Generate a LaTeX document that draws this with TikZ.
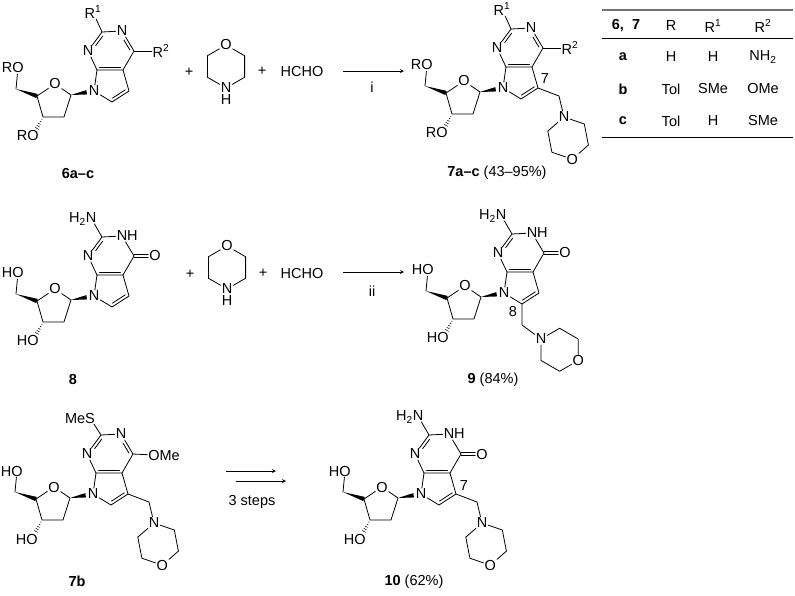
\documentclass[tikz,border=0pt]{standalone}
\usepackage{fontspec}
\setmainfont{Liberation Sans}
\usetikzlibrary{calc}
\usetikzlibrary{positioning}
\tikzset{
	bond/.style={line width=0.8pt, line join=round, line cap=round},
	atom/.style={inner sep=1pt, outer sep=0pt},
	tail/.style={inner sep=0pt, outer sep=0pt},
	rxn/.style={->, >=stealth, line width=0.8pt},
	tablerule/.style={line width=0.8pt},
}
% double bond: second line beside a--b, between fractions #4 and #5
\newcommand{\dblbond}[5]{\draw[bond] ($(#1)!#4!(#2)!3pt!#3:(#2)$) -- ($(#1)!#5!(#2)!3pt!#3:(#2)$);}
% #1 narrow end, #2 wide end
\newcommand{\wedgebond}[2]{\fill ($(#1)$) -- ($(#2)!2.2pt!90:(#1)$) -- ($(#2)!2.2pt!-90:(#1)$) -- cycle;}
\newcommand{\hashbond}[2]{%
	\foreach \h in {.12,.24,.36,.48,.60}{
		\draw[line width=.5pt] ($(#1)!\h!(#2)!\h*3.4pt!90:(#2)$) -- ($(#1)!\h!(#2)!\h*3.4pt!-90:(#2)$);
	}}
% prefix, x, y, letter on the sugar oxygens
\newcommand{\nucleoside}[4]{%
	\begin{scope}[shift={(#2,#3)}]
		\node[atom] (#1N9) at (0,0) {N};
		\coordinate (#1C8) at (18,11);
		\coordinate (#1C7) at (35,0);
		\coordinate (#1C4a) at (29,-21);
		\coordinate (#1C7a) at (3,-21);
		\node[atom] (#1N3) at (-6,-40) {N};
		\coordinate (#1C2) at (8,-59);
		\node[atom] (#1N1) at (28,-60) {N};
		\coordinate (#1C4) at (40,-40);
		\draw[bond] (#1N9) -- (#1C8) -- (#1C7) -- (#1C4a) -- (#1C7a) -- (#1N9);
		\draw[bond] (#1C7a) -- (#1N3) -- (#1C2) -- (#1N1) -- (#1C4) -- (#1C4a);
		\dblbond{#1C2}{#1N3}{90}{.12}{.62}
		\dblbond{#1C7a}{#1C4a}{90}{.1}{.9}
		\dblbond{#1C7}{#1C8}{-90}{.12}{.88}
		% sugar
		\node[atom] (#1O4) at (-39,-7) {O};
		\coordinate (#1C1) at (-23,4);
		\coordinate (#1C2p) at (-30,26);
		\coordinate (#1C3p) at (-51,26);
		\coordinate (#1C4p) at (-57,5);
		\coordinate (#1C5p) at (-78,-2);
		\node[atom] (#1O5) at (-76,-23) {O};
		\node[atom] (#1O3) at (-61,45) {O};
		\node[tail, base left=-1pt of #1O5] (#1R5) {#4};
		\node[tail, base left=-1pt of #1O3] (#1R3) {#4};
		\draw[bond] (#1C4p) -- (#1O4) -- (#1C1) -- (#1C2p) -- (#1C3p) -- (#1C4p);
		\draw[bond] (#1C5p) -- (#1O5);
		\coordinate (#1Nw) at ($(#1C1)!.68!(#1N9)$);
		\wedgebond{#1C1}{#1Nw}
		\wedgebond{#1C5p}{#1C4p}
		\hashbond{#1C3p}{#1O3}
	\end{scope}}
% prefix, position, turn
\newcommand{\morpholine}[3]{%
	\begin{scope}[shift={(#2)}, rotate=#3]
		\node[atom] (#1mN) at (0,0) {N};
		\coordinate (#1mA) at (10.75,-18.6);
		\coordinate (#1mB) at (32.25,-18.6);
		\node[atom] (#1mO) at (43,0) {O};
		\coordinate (#1mC) at (32.25,18.6);
		\coordinate (#1mD) at (10.75,18.6);
		\draw[bond] (#1mN) -- (#1mA) -- (#1mB) -- (#1mO) -- (#1mC) -- (#1mD) -- (#1mN);
	\end{scope}}
% R1 and R2 on the base
\newcommand{\rgroups}[1]{%
	\node[atom] (#1Ra) at ($(#1N9)+(-1,-79)$) {R\textsuperscript{1}};
	\node[atom] (#1Rb) at ($(#1N9)+(67,-40)$) {R\textsuperscript{2}};
	\draw[bond] (#1C2) -- (#1Ra);
	\draw[bond] (#1C4) -- (#1Rb);
	\dblbond{#1C4}{#1N1}{90}{.12}{.62}}
% amino and keto groups
\newcommand{\aminoketo}[1]{%
	\node[atom] (#1Nam) at ($(#1N9)+(-3,-78)$) {N};
	\node[tail, base left=-1pt of #1Nam] (#1Ham) {H\textsubscript{2}};
	\node[tail, base right=-1pt of #1N1] (#1Hn) {H};
	\node[atom] (#1Ok) at ($(#1N9)+(61,-40)$) {O};
	\coordinate (#1Oe) at ($(#1C4)!.68!(#1Ok)$);
	\draw[bond] (#1C2) -- (#1Nam);
	\draw[bond] ($(#1C4)!1.5pt!90:(#1Ok)$) -- ($(#1Oe)!1.5pt!-90:(#1C4)$);
	\draw[bond] ($(#1C4)!1.5pt!-90:(#1Ok)$) -- ($(#1Oe)!1.5pt!90:(#1C4)$);}
% CH2 on C7 and its morpholine
\newcommand{\sidechain}[1]{%
	\coordinate (#1Me) at ($(#1N9)+(56,8)$);
	\coordinate (#1Mp) at ($(#1N9)+(61,29)$);
	\morpholine{#1}{#1Mp}{-79}
	\draw[bond] (#1C7) -- (#1Me) -- (#1mN);}
\begin{document}
\begin{tikzpicture}[x=1pt, y=-1pt, font=\fontsize{14.5}{17}\selectfont]
	\useasboundingbox (0,0) rectangle (795,595);

	% first row
	\nucleoside{a}{94}{91}{R}
	\rgroups{a}
	\node (plusA) at (189,72) {+};
	\morpholine{fa}{226,88}{90}
	\node[tail, below=1pt of famN] (faH) {H};
	\node (plusB) at (262,71) {+};
	\node (hchoA) at (302,72) {HCHO};
	\coordinate (arrAs) at (343,71);
	\coordinate (arrAe) at (404,71);
	\draw[rxn] (arrAs) -- (arrAe);
	\node (stepA) at (372,87) {i};
	\nucleoside{b}{503}{88}{R}
	\rgroups{b}
	\sidechain{b}
	\node (numA) at ($(bN9)+(42,-9)$) {7};
	\node (lab6) at (78,174) {\textbf{6a–c}};
	\node (lab7) at (497,173) {\textbf{7a–c} (43–95\%)};

	% table
	\coordinate (rTl) at (602,10); \coordinate (rTr) at (793,10);
	\coordinate (rHl) at (602,38); \coordinate (rHr) at (793,38);
	\coordinate (rBl) at (602,137); \coordinate (rBr) at (793,137);
	\draw[tablerule, line width=1.5pt, black!55] (rTl) -- (rTr);
	\draw[tablerule] (rHl) -- (rHr);
	\draw[tablerule] (rBl) -- (rBr);
	\node (head0) at (626,26) {\textbf{6,\ \ 7}};
	\node (head1) at (671,26) {R};
	\node (head2) at (713,26) {R\textsuperscript{1}};
	\node (head3) at (763,26) {R\textsuperscript{2}};
	\foreach \y/\n/\ca/\cb/\cc in {57/a/H/H/NH\textsubscript{2}, 89/b/Tol/SMe/OMe, 121/c/Tol/H/SMe}{
		\node (row\n) at (623,\y) {\textbf{\n}};
		\node (row\n1) at (671,\y) {\ca};
		\node (row\n2) at (713,\y) {\cb};
		\node (row\n3) at (763,\y) {\cc};
	}

	% second row
	\nucleoside{c}{94}{296}{H}
	\aminoketo{c}
	\node (plusC) at (190,274) {+};
	\morpholine{fb}{227,289}{90}
	\node[tail, below=1pt of fbmN] (fbH) {H};
	\node (plusD) at (263,273) {+};
	\node (hchoB) at (302,274) {HCHO};
	\coordinate (arrBs) at (343,272);
	\coordinate (arrBe) at (404,272);
	\draw[rxn] (arrBs) -- (arrBe);
	\node (stepB) at (372,291) {ii};
	\nucleoside{d}{504}{293}{H}
	\aminoketo{d}
	\coordinate (dMe) at ($(dN9)+(18,32)$);
	\coordinate (dMp) at ($(dN9)+(37,46)$);
	\morpholine{d}{dMp}{-30}
	\draw[bond] (dC8) -- (dMe) -- (dmN);
	\node (numB) at ($(dN9)+(9,19)$) {8};
	\node (lab8) at (73,380) {\textbf{8}};
	\node (lab9) at (493,380) {\textbf{9} (84\%)};

	% third row
	\nucleoside{e}{93}{494}{H}
	\node[atom] (eS) at ($(eN9)+(-3,-76)$) {S};
	\node[tail, base left=-1pt of eS] (eMe1) {Me};
	\node[atom] (eO) at ($(eN9)+(61,-39)$) {O};
	\node[tail, base right=-1pt of eO] (eMe2) {Me};
	\draw[bond] (eC2) -- (eS);
	\draw[bond] (eC4) -- (eO);
	\dblbond{eC4}{eN1}{90}{.12}{.62}
	\sidechain{e}
	\coordinate (arrCs) at (226,471);
	\coordinate (arrCe) at (276,471);
	\coordinate (arrDs) at (236,481);
	\coordinate (arrDe) at (286,481);
	\draw[rxn] (arrCs) -- (arrCe);
	\draw[rxn] (arrDs) -- (arrDe);
	\node (stepC) at (252,502) {3 steps};
	\nucleoside{f}{421}{494}{H}
	\aminoketo{f}
	\sidechain{f}
	\node (numC) at ($(fN9)+(43,-8)$) {7};
	\node (lab7b) at (77,581) {\textbf{7b}};
	\node (lab10) at (414,582) {\textbf{10} (62\%)};
\end{tikzpicture}
\end{document}
